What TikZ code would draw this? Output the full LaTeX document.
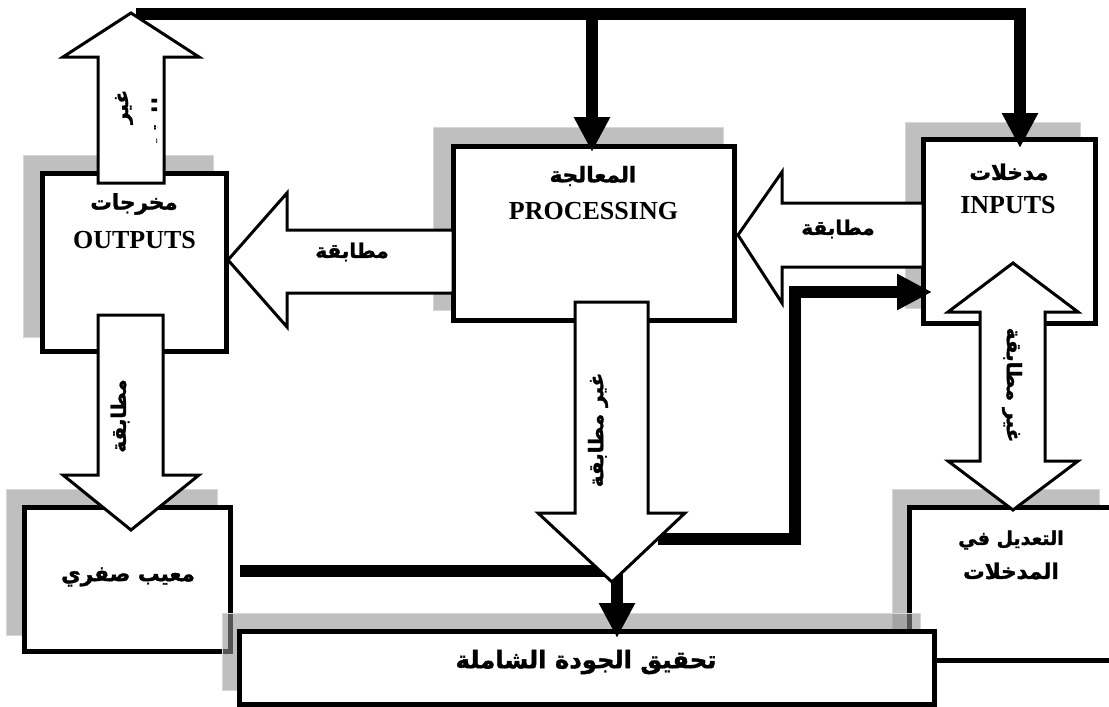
\documentclass[tikz,border=0pt]{standalone}
\usepackage{fontspec}
\setmainfont{Liberation Serif}
\newfontfamily\arabicfont[Script=Arabic,BoldFeatures={FakeBold=1.6}]{DejaVu Sans}
\TeXXeTstate=1
\usetikzlibrary{arrows.meta}
\definecolor{shd}{RGB}{146,146,146}
\definecolor{shdedge}{RGB}{215,215,215}
\newcommand{\artx}[1]{\beginR #1\endR}
\begin{document}
\begin{tikzpicture}[x=1pt,y=-1pt,
  box/.style={draw,line width=5pt,fill=white,inner sep=0pt,line join=miter},
  shadowbox/.style={fill=shd,fill opacity=0.58,draw=shdedge,draw opacity=1,line width=1pt},
  hollow/.style={draw,line width=3pt,fill=white,line join=miter},
  conn/.style={line width=11.5pt,line join=miter},
  tip/.style={-{Triangle[length=35pt,width=34pt]}},
  atext/.style={font=\arabicfont\bfseries\fontsize{20}{25}\selectfont,inner sep=0pt},
  btext/.style={font=\arabicfont\bfseries\fontsize{21.5}{26}\selectfont,inner sep=0pt},
  ctext/.style={font=\arabicfont\bfseries\fontsize{19}{24}\selectfont,inner sep=0pt},
  bigatext/.style={font=\arabicfont\bfseries\fontsize{24.3}{30}\selectfont,inner sep=0pt},
  etext/.style={font=\bfseries\fontsize{26}{30}\selectfont,inner sep=0pt,anchor=base}]
\useasboundingbox (0,0) rectangle (1109,707);
\clip (0,0) rectangle (1109,707);
\fill[white] (0,0) rectangle (1109,707);
% shadows
\path[shadowbox] (23,155) rectangle (213,337);
\path[shadowbox] (433,127) rectangle (723,310);
\path[shadowbox] (905,122) rectangle (1080,308);
\path[shadowbox] (6,489) rectangle (217,635);
\path[shadowbox] (892,489) rectangle (1099,650);
% boxes
\node[box,minimum width=184pt,minimum height=178pt] (out) at (134,262) {};
\node[box,minimum width=281pt,minimum height=174pt] (proc) at (593.5,233) {};
\node[box,minimum width=172pt,minimum height=184pt] (inp) at (1009,231) {};
\node[box,minimum width=206pt,minimum height=144pt] (zero) at (127,579) {};
\node[box,minimum width=206pt,minimum height=153pt] (adj) at (1012,583.5) {};
\path[shadowbox] (222,613) rectangle (920,690);
\node[box,minimum width=695pt,minimum height=73pt] (tq) at (586.5,667.5) {};
% connector points
\coordinate (barL) at (136,14);
\coordinate (barM) at (592,14);
\coordinate (barR) at (1020,14);
\coordinate (procIn) at (592,152);
\coordinate (inpIn) at (1020,148);
\coordinate (fbStart) at (658,539);
\coordinate (fbTurn) at (795,539);
\coordinate (fbUp) at (795,292);
\coordinate (inpSide) at (932,292);
\coordinate (zStart) at (240,571);
\coordinate (zTurn) at (617,571);
\coordinate (tqIn) at (617,638);
% black connectors
\draw[conn,tip] (barL) -- (barR) -- (inpIn);
\draw[conn,tip] (barM) -- (procIn);
\draw[conn,tip] (fbStart) -- (fbTurn) -- (fbUp) -- (inpSide);
\draw[conn,tip] (zStart) -- (zTurn) -- (tqIn);
% hollow arrows
\path[hollow] (131,13) -- (199,57) -- (164,57) -- (164,183) -- (98,183) -- (98,57) -- (63,57) -- cycle;
\path[hollow] (228,260) -- (287,193) -- (287,230) -- (453,230) -- (453,293) -- (287,293) -- (287,327) -- cycle;
\path[hollow] (738,235) -- (782,172) -- (782,203) -- (923,203) -- (923,267) -- (782,267) -- (782,303) -- cycle;
\path[hollow] (131,530) -- (199,475) -- (163,475) -- (163,315) -- (98,315) -- (98,475) -- (63,475) -- cycle;
\path[hollow] (612,582) -- (685,513) -- (648,513) -- (648,302) -- (575,302) -- (575,513) -- (538,513) -- cycle;
\path[hollow] (1013,263) -- (1078,312) -- (1045,312) -- (1045,461) -- (1078,461) -- (1013,510) -- (948,461) -- (980,461) -- (980,312) -- (948,312) -- cycle;
% arrow labels
\node[atext,rotate=90] (l1) at (124,107) {\artx{غير}};
\begin{scope}
\clip (140,60) rectangle (157,180);
\node[atext,rotate=90] (l1b) at (161,110) {\artx{مطابقة}};
\end{scope}
\node[atext] (l2) at (352,252) {\artx{مطابقة}};
\node[atext] (l3) at (838,229) {\artx{مطابقة}};
\node[atext,rotate=90] (l4) at (120,416) {\artx{مطابقة}};
\node[atext,rotate=90] (l5) at (598,430) {\artx{غير مطابقة}};
\node[atext,rotate=-90] (l6) at (1012,385) {\artx{غير مطابقة}};
% box labels
\node[btext] (outA) at (134,204) {\artx{مخرجات}};
\node[etext] (outE) at (134.5,248) {OUTPUTS};
\node[btext] (procA) at (593,176) {\artx{المعالجة}};
\node[etext] (procE) at (593.5,219) {PROCESSING};
\node[btext] (inpA) at (1009,172) {\artx{مدخلات}};
\node[etext] (inpE) at (1008,213) {INPUTS};
\node[btext] (zeroA) at (128,577) {\artx{معيب صفري}};
\node[ctext] (adjA) at (1011,540) {\artx{التعديل في}};
\node[btext] (adjB) at (1011,571) {\artx{المدخلات}};
\node[bigatext] (tqA) at (586,662) {\artx{تحقيق الجودة الشاملة}};
\end{tikzpicture}
\end{document}
